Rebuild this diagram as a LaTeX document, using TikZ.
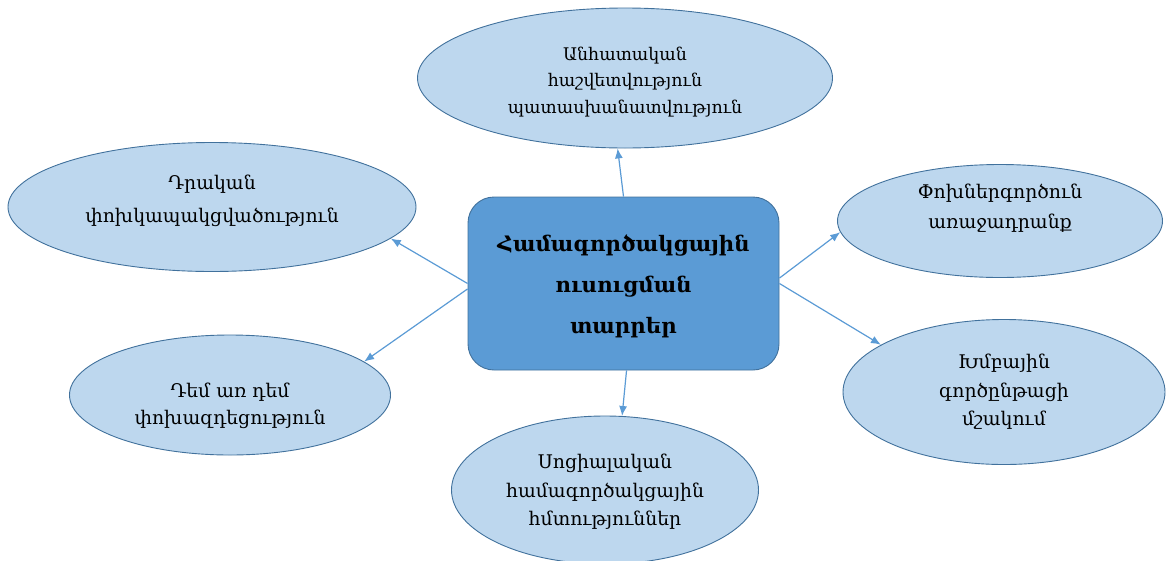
\documentclass[tikz,border=0pt]{standalone}
\usepackage{fontspec}
\setmainfont{DejaVu Serif}
\usetikzlibrary{shapes.geometric,arrows.meta}
\definecolor{ellfill}{HTML}{BDD7EE}
\definecolor{edge}{HTML}{41719C}
\definecolor{boxfill}{HTML}{5B9BD5}
\definecolor{arrcol}{HTML}{5B9BD5}
\tikzset{
  ell/.style={ellipse, draw=edge, fill=ellfill, line width=0.9pt, inner sep=0pt},
  etext/.style={align=center, inner sep=0pt, font=\fontsize{18.8}{#1}\selectfont},
  hub/.style={rectangle, rounded corners=26pt, draw=edge, fill=boxfill, line width=0.9pt,
    minimum width=311pt, minimum height=173pt, inner sep=0pt},
  hubtext/.style={align=center, inner sep=0pt, font=\bfseries\fontsize{21.3}{41}\selectfont},
  arr/.style={draw=arrcol, line width=1.2pt, -{Latex[length=10pt,width=8pt]}}
}
\begin{document}
\begin{tikzpicture}[x=1pt,y=-1pt]
\useasboundingbox (0,0) rectangle (1166,560);
\node[hub] (c) at (623.5,283.5) {};
\node[hubtext] (ct) at (623.5,286) {Համագործակցային\\ուսուցման\\տարրեր};
\node[ell, minimum width=415pt, minimum height=140pt] (t) at (625,78) {};
\node[etext=26.5, font=\fontsize{17.4}{26.5}\selectfont] (tt) at (625,82) {Անհատական\\հաշվետվություն\\պատասխանատվություն};
\node[ell, minimum width=408pt, minimum height=129pt] (lt) at (212,207) {};
\node[etext=33] (ltt) at (212,201) {Դրական\\փոխկապակցվածություն};
\node[ell, minimum width=325pt, minimum height=113pt] (rt) at (1000,221) {};
\node[etext=30] (rtt) at (1000,208) {Փոխներգործուն\\առաջադրանք};
\node[ell, minimum width=321pt, minimum height=120pt] (lb) at (230,395) {};
\node[etext=27] (lbt) at (230,406) {Դեմ առ դեմ\\փոխազդեցություն};
\node[ell, minimum width=322pt, minimum height=145pt] (rb) at (1004,392) {};
\node[etext=28.5] (rbt) at (1004,392) {Խմբային\\գործընթացի\\մշակում};
\node[ell, minimum width=307pt, minimum height=148pt] (b) at (605,490) {};
\node[etext=28.5] (bt) at (605,492) {Սոցիալական\\համագործակցային\\հմտություններ};
\draw[arr] (c.north) -- (t.-96);
\draw[arr] (c.west) -- (lt.-10);
\draw[arr] (c.182) -- (lb.14);
\draw[arr] (c.2) -- (rt.-176);
\draw[arr] (c.east) -- (rb.159);
\draw[arr] (c.-88) -- (b.77);
\end{tikzpicture}
\end{document}
